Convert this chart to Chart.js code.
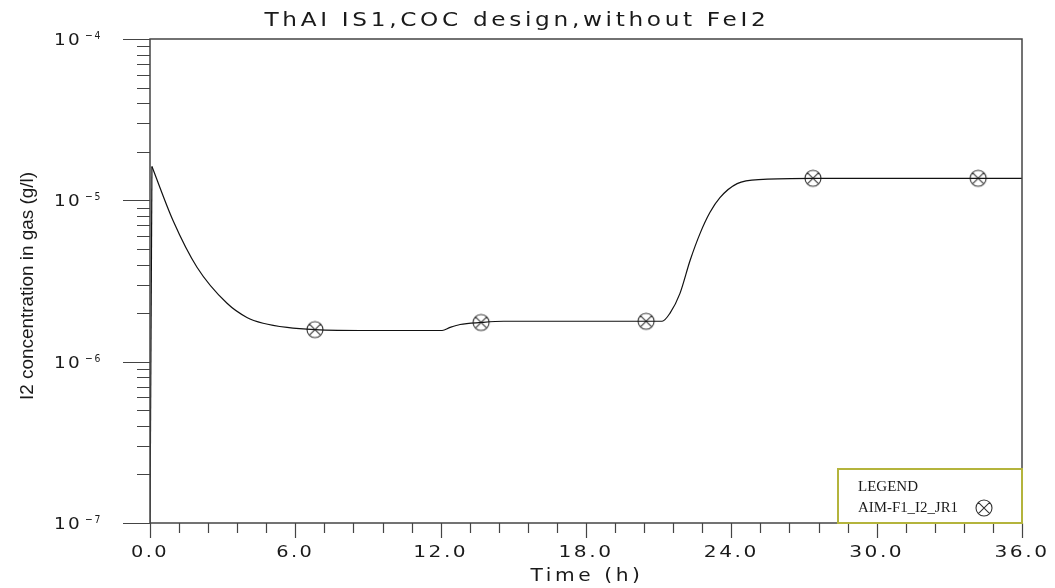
<!DOCTYPE html>
<html>
<head>
<meta charset="utf-8">
<title>ThAI IS1 - I2 in gas</title>
<script src="https://cdn.jsdelivr.net/npm/chart.js@4.4.1/dist/chart.umd.min.js"></script>
<style>
  html, body { margin: 0; padding: 0; background: #fff; }
  canvas { display: block; }
</style>
</head>
<body>
<canvas id="plot" width="1055" height="588"></canvas>
<script>
// I2 concentration in gas, hours vs g/l
const curveTime = [0, 0.08, 0.95, 1.94, 3.18, 4.0, 4.67, 5.66, 6.81, 9.0, 12.06, 12.39, 12.8, 13.67, 14.6,
                   21.14, 21.47, 21.88, 22.3, 22.71, 23.12, 23.53, 24.24, 25.31, 27.37, 36.0];
const curveI2 = [1.0e-7, 1.62e-5, 7.5e-6, 3.85e-6, 2.3e-6, 1.88e-6, 1.73e-6, 1.63e-6, 1.58e-6, 1.56e-6, 1.56e-6,
                 1.63e-6, 1.7e-6, 1.75e-6, 1.78e-6, 1.78e-6, 2.0e-6, 2.65e-6, 4.25e-6, 6.24e-6, 8.43e-6,
                 1.04e-5, 1.27e-5, 1.35e-5, 1.37e-5, 1.37e-5];

// symbols along the curve
const markerTime = [6.81, 13.67, 20.48, 27.37, 34.19];
const markerI2 = [1.58e-6, 1.75e-6, 1.78e-6, 1.37e-5, 1.37e-5];

const xTickValues = [0, 6, 12, 18, 24, 30, 36];
const xMinorStep = 1.2;
const yPowers = [-4, -5, -6, -7];

const titleText = 'ThAI IS1,COC design,without FeI2';
const xTitle = 'Time (h)';
const yTitle = 'I2 concentration in gas (g/l)';
const seriesName = 'AIM-F1_I2_JR1';

// the start-up spike is drawn straight, the rest smoothed
const spikeEnd = 2;
const toPoints = (ts, vs) => ts.map((t, i) => ({ x: t, y: vs[i] }));

// circle with a diagonal cross, used for both plot and legend
function makeSymbol(r) {
  const c = document.createElement('canvas');
  const s = 2 * r + 4;
  c.width = s; c.height = s;
  const g = c.getContext('2d');
  g.strokeStyle = '#333';
  g.lineWidth = 1.1;
  g.beginPath();
  g.arc(s / 2, s / 2, r, 0, Math.PI * 2);
  const d = r * 0.707;
  g.moveTo(s / 2 - d, s / 2 - d); g.lineTo(s / 2 + d, s / 2 + d);
  g.moveTo(s / 2 + d, s / 2 - d); g.lineTo(s / 2 - d, s / 2 + d);
  g.stroke();
  return c;
}
const symbol = makeSymbol(8);

// draw text squeezed/stretched to a given width
function fitText(ctx, text, x, y, width, align) {
  const w = ctx.measureText(text).width;
  ctx.save();
  ctx.translate(x, y);
  ctx.scale(width / w, 1);
  ctx.textAlign = align;
  ctx.fillText(text, 0, 0);
  ctx.restore();
}

const framePlugin = {
  id: 'frame',
  afterDraw(chart) {
    const ctx = chart.ctx;
    const a = chart.chartArea;
    const xs = chart.scales.x, ys = chart.scales.y;
    ctx.save();
    ctx.strokeStyle = '#444';
    ctx.lineWidth = 1.5;
    ctx.strokeRect(a.left, a.top, a.right - a.left, a.bottom - a.top);

    // x ticks
    ctx.lineWidth = 1.2;
    ctx.beginPath();
    for (let i = 0; i * xMinorStep <= xs.max + 1e-6; i++) {
      const v = i * xMinorStep;
      const px = Math.round(xs.getPixelForValue(v)) + 0.5;
      const major = i % 5 === 0;
      ctx.moveTo(px, a.bottom);
      ctx.lineTo(px, a.bottom + (major ? 15 : 10));
    }
    // y ticks
    yPowers.forEach(p => {
      const py = Math.round(ys.getPixelForValue(Math.pow(10, p))) + 0.5;
      ctx.moveTo(a.left, py); ctx.lineTo(a.left - 27, py);
      if (p > yPowers[yPowers.length - 1]) {
        for (let k = 2; k <= 9; k++) {
          const my = Math.round(ys.getPixelForValue(k * Math.pow(10, p - 1))) + 0.5;
          ctx.moveTo(a.left, my); ctx.lineTo(a.left - 13, my);
        }
      }
    });
    ctx.stroke();

    ctx.fillStyle = '#1a1a1a';
    ctx.textBaseline = 'middle';
    ctx.letterSpacing = '2px';

    // x tick labels
    ctx.font = '16px "DejaVu Sans"';
    xTickValues.forEach(v => {
      const txt = v.toFixed(1);
      fitText(ctx, txt, xs.getPixelForValue(v), 553, txt.length === 3 ? 38 : 55, 'center');
    });

    // y tick labels: 10 with raised exponent
    yPowers.forEach(p => {
      const py = ys.getPixelForValue(Math.pow(10, p));
      ctx.font = '16px "DejaVu Sans"';
      fitText(ctx, '10', 54, py + 2, 28, 'left');
      ctx.font = '11px "DejaVu Sans"';
      fitText(ctx, '\u2212' + (-p), 85, py - 3, 17, 'left');
    });

    // title and axis titles
    ctx.font = '19px "DejaVu Sans"';
    ctx.letterSpacing = '3px';
    fitText(ctx, titleText, 517, 21, 505, 'center');
    ctx.font = '17px "DejaVu Sans"';
    fitText(ctx, xTitle, 587, 577, 113, 'center');

    ctx.letterSpacing = '0px';
    ctx.save();
    ctx.translate(28, 286);
    ctx.rotate(-Math.PI / 2);
    ctx.font = '19px "Liberation Sans Narrow", "Liberation Sans"';
    fitText(ctx, yTitle, 0, 0, 228, 'center');
    ctx.restore();

    // legend box
    const lx = 838, ly = 469, lw = a.right - lx, lh = a.bottom - ly;
    ctx.fillStyle = '#fff';
    ctx.fillRect(lx, ly, lw, lh);
    ctx.strokeStyle = '#b4b43c';
    ctx.lineWidth = 2;
    ctx.strokeRect(lx, ly, lw, lh);
    ctx.fillStyle = '#1a1a1a';
    ctx.font = '14px "Liberation Serif"';
    fitText(ctx, 'LEGEND', 858, 487, 60, 'left');
    fitText(ctx, seriesName, 858, 508, 100, 'left');
    ctx.drawImage(symbol, 984 - symbol.width / 2, 508 - symbol.height / 2);
    ctx.restore();
  }
};

new Chart(document.getElementById('plot'), {
  type: 'line',
  data: {
    datasets: [
      {
        label: seriesName + ' start',
        data: toPoints(curveTime.slice(0, spikeEnd), curveI2.slice(0, spikeEnd)),
        borderColor: '#111',
        borderWidth: 1.2,
        pointRadius: 0,
        tension: 0,
        fill: false
      },
      {
        label: seriesName,
        data: toPoints(curveTime.slice(spikeEnd - 1), curveI2.slice(spikeEnd - 1)),
        borderColor: '#111',
        borderWidth: 1.2,
        pointRadius: 0,
        cubicInterpolationMode: 'monotone',
        fill: false
      },
      {
        label: seriesName + ' symbols',
        data: toPoints(markerTime, markerI2),
        showLine: false,
        pointStyle: symbol,
        pointRadius: 8
      }
    ]
  },
  options: {
    responsive: false,
    devicePixelRatio: 1,
    animation: false,
    layout: { padding: { top: 39, right: 33, bottom: 0, left: 0 } },
    plugins: {
      legend: { display: false },
      title: { display: false },
      tooltip: { enabled: false }
    },
    scales: {
      x: {
        type: 'linear',
        min: 0,
        max: 36,
        grid: { display: false },
        border: { display: false },
        ticks: { display: false },
        afterFit(scale) { scale.height = 65; }
      },
      y: {
        type: 'logarithmic',
        min: 1e-7,
        max: 1e-4,
        grid: { display: false },
        border: { display: false },
        ticks: { display: false },
        afterFit(scale) { scale.width = 150; }
      }
    }
  },
  plugins: [framePlugin]
});
</script>
</body>
</html>
